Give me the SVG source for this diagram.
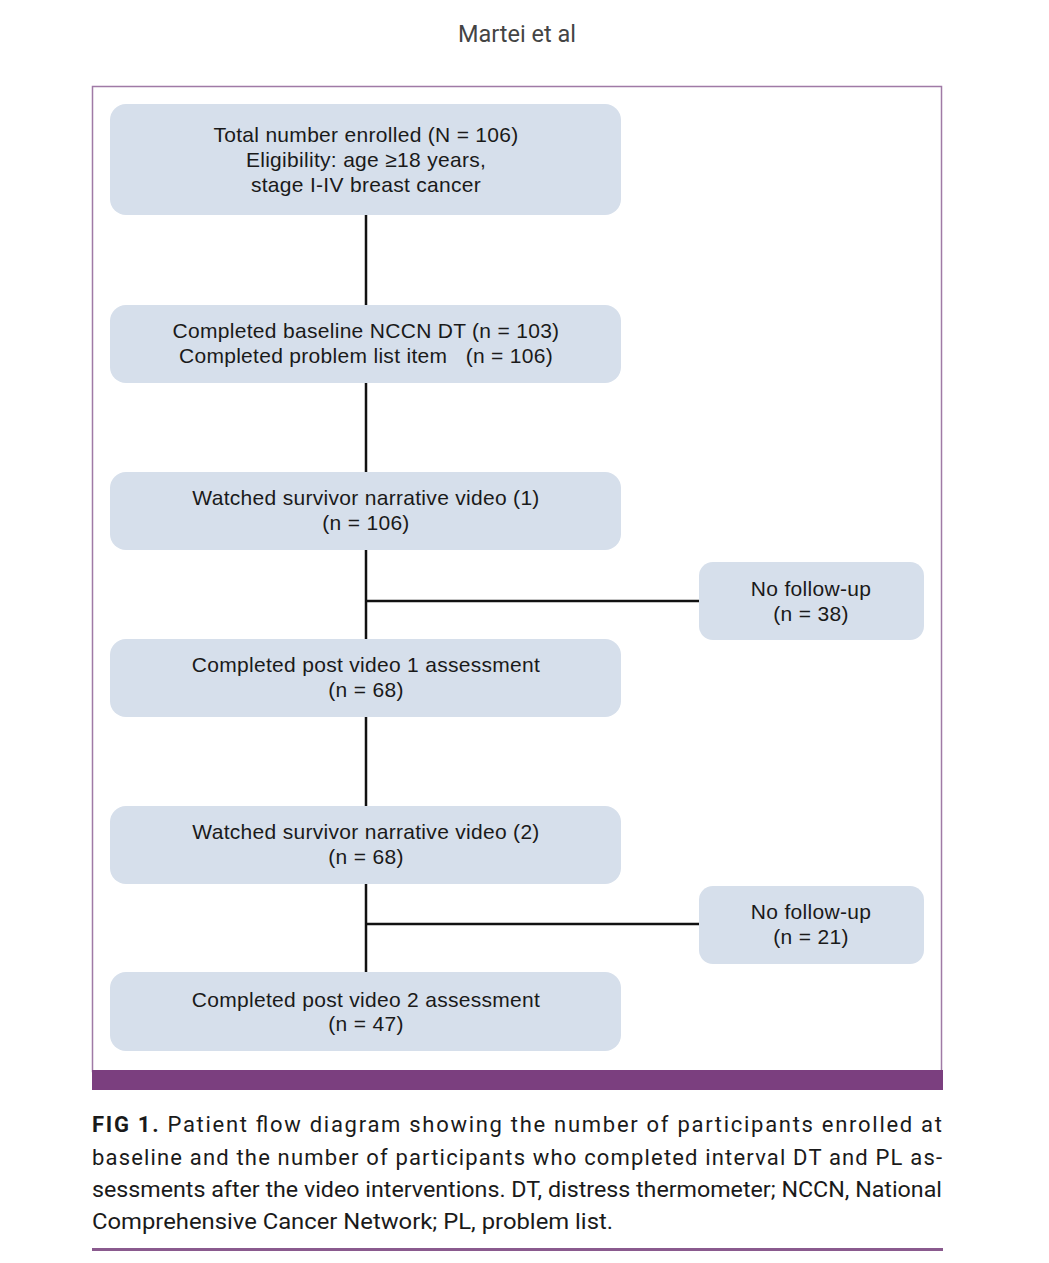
<svg xmlns="http://www.w3.org/2000/svg" width="1049" height="1263" viewBox="0 0 1049 1263">
<style>
.box{fill:#d6dfeb;}
.t{font-family:"Liberation Sans",Arial,sans-serif;font-size:21px;letter-spacing:0.3px;fill:#1a1a1a;text-anchor:middle;}
.c{font-family:Roboto,"Liberation Sans",sans-serif;font-size:22px;fill:#1a1a1a;}
.ln{stroke:#111;stroke-width:2.5;fill:none;}
</style>
<rect width="1049" height="1263" fill="#fff"/>
<text x="517" y="42" font-family="Roboto,'Liberation Sans',sans-serif" font-size="23.5" fill="#444" text-anchor="middle">Martei et al</text>
<rect x="92.5" y="86.5" width="849" height="985" fill="none" stroke="#a07aa6" stroke-width="1.5"/>
<rect x="92" y="1070" width="851" height="20" fill="#7b3f7f"/>
<g id="connectors">
<path class="ln" d="M366 215V305M366 383V472M366 550V639M366 717V806M366 884V972M366 601H699M366 924H699"/>
</g>
<g id="n1"><rect class="box" x="110" y="104" width="511" height="111" rx="16"/>
<text class="t" x="366" y="142">Total number enrolled (N = 106)</text>
<text class="t" x="366" y="167">Eligibility: age ≥18 years,</text>
<text class="t" x="366" y="192">stage I-IV breast cancer</text></g>
<g id="n2"><rect class="box" x="110" y="305" width="511" height="78" rx="16"/>
<text class="t" x="366" y="338">Completed baseline NCCN DT (n = 103)</text>
<text class="t" x="366" y="363" xml:space="preserve">Completed problem list item   (n = 106)</text></g>
<g id="n3"><rect class="box" x="110" y="472" width="511" height="78" rx="16"/>
<text class="t" x="366" y="505">Watched survivor narrative video (1)</text>
<text class="t" x="366" y="530">(n = 106)</text></g>
<g id="n4"><rect class="box" x="110" y="639" width="511" height="78" rx="16"/>
<text class="t" x="366" y="672">Completed post video 1 assessment</text>
<text class="t" x="366" y="697">(n = 68)</text></g>
<g id="n5"><rect class="box" x="110" y="806" width="511" height="78" rx="16"/>
<text class="t" x="366" y="839">Watched survivor narrative video (2)</text>
<text class="t" x="366" y="864">(n = 68)</text></g>
<g id="n6"><rect class="box" x="110" y="972" width="511" height="79" rx="16"/>
<text class="t" x="366" y="1007">Completed post video 2 assessment</text>
<text class="t" x="366" y="1031">(n = 47)</text></g>
<g id="n7"><rect class="box" x="699" y="562" width="225" height="78" rx="14"/>
<text class="t" x="811" y="596">No follow-up</text>
<text class="t" x="811" y="621">(n = 38)</text></g>
<g id="n8"><rect class="box" x="699" y="886" width="225" height="78" rx="14"/>
<text class="t" x="811" y="919">No follow-up</text>
<text class="t" x="811" y="944">(n = 21)</text></g>
<g id="caption">
<text class="c" x="92" y="1132" textLength="850" lengthAdjust="spacing"><tspan font-weight="bold">FIG 1.</tspan> Patient flow diagram showing the number of participants enrolled at</text>
<text class="c" x="92" y="1165" textLength="850" lengthAdjust="spacing">baseline and the number of participants who completed interval DT and PL as-</text>
<text class="c" x="92" y="1197" textLength="850" lengthAdjust="spacingAndGlyphs">sessments after the video interventions. DT, distress thermometer; NCCN, National</text>
<text class="c" x="92" y="1229" textLength="521" lengthAdjust="spacingAndGlyphs">Comprehensive Cancer Network; PL, problem list.</text>
</g>
<rect x="92" y="1248" width="851" height="3" fill="#8a5a8e"/>
</svg>
